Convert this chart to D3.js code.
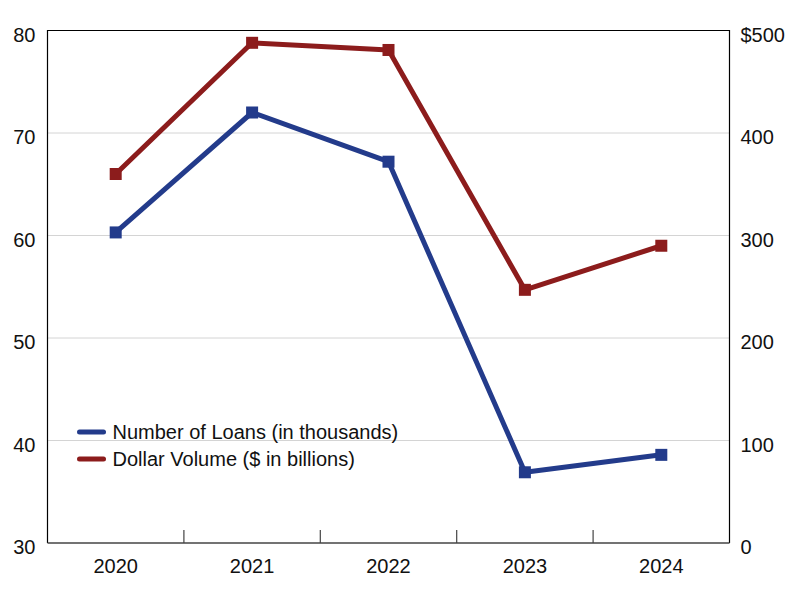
<!DOCTYPE html>
<html>
<head>
<meta charset="utf-8">
<script src="https://cdn.jsdelivr.net/npm/d3@7.9.0/dist/d3.min.js"></script>
<style>
  body { margin: 0; background: #fff; }
  svg { display: block; font-family: "Liberation Sans", Arial, sans-serif; }
</style>
</head>
<body>
<div id="chart"></div>
<script>
const years = ["2020", "2021", "2022", "2023", "2024"];
const loans = [60.3, 72.0, 67.2, 36.9, 38.6];      // thousands
const volume = [360, 488, 481, 247, 290];          // $ billions
const leftTicks = [30, 40, 50, 60, 70, 80];
const rightTicks = [0, 100, 200, 300, 400, 500];

const W = 800, H = 600;
const margin = {top: 30.5, right: 70.5, bottom: 57, left: 47.5};
const width = W - margin.left - margin.right;
const height = H - margin.top - margin.bottom;

const svg = d3.select("#chart").append("svg")
    .attr("width", W)
    .attr("height", H);

const g = svg.append("g")
    .attr("transform", `translate(${margin.left},${margin.top})`);

const x = d3.scaleBand().domain(years).range([0, width]);
const yL = d3.scaleLinear().domain([30, 80]).range([height, 0]);
const yR = d3.scaleLinear().domain([0, 500]).range([height, 0]);

// gridlines
g.selectAll(".grid")
    .data(leftTicks.slice(1, -1))
    .enter().append("line")
    .attr("x1", 0).attr("x2", width)
    .attr("y1", d => yL(d)).attr("y2", d => yL(d))
    .attr("stroke", "#d4d4d4")
    .attr("stroke-width", 1);

// frame: top, left, right in black
g.append("path")
    .attr("d", `M0,${height}V0H${width}V${height}`)
    .attr("fill", "none")
    .attr("stroke", "#000")
    .attr("stroke-width", 1.2);

// bottom axis line
g.append("line")
    .attr("x1", 0).attr("x2", width)
    .attr("y1", height).attr("y2", height)
    .attr("stroke", "#444")
    .attr("stroke-width", 1.5);

// ticks between categories
g.selectAll(".xtick")
    .data(years.slice(1))
    .enter().append("line")
    .attr("x1", d => x(d)).attr("x2", d => x(d))
    .attr("y1", height).attr("y2", height - 13)
    .attr("stroke", "#444")
    .attr("stroke-width", 1.2);

// x labels
g.selectAll(".xlab")
    .data(years)
    .enter().append("text")
    .attr("x", d => x(d) + x.bandwidth() / 2)
    .attr("y", height + 30)
    .attr("text-anchor", "middle")
    .attr("font-size", "20px")
    .attr("fill", "#111")
    .text(d => d);

// left labels
g.selectAll(".ylab")
    .data(leftTicks)
    .enter().append("text")
    .attr("x", -12)
    .attr("y", d => yL(d) + 11)
    .attr("text-anchor", "end")
    .attr("font-size", "20px")
    .attr("fill", "#111")
    .text(d => d);

// right labels
g.selectAll(".rlab")
    .data(rightTicks)
    .enter().append("text")
    .attr("x", width + 11)
    .attr("y", d => yR(d) + 11)
    .attr("text-anchor", "start")
    .attr("font-size", "20px")
    .attr("fill", "#111")
    .text(d => d === 500 ? "$" + d : d);

const series = [
    {name: "Number of Loans (in thousands)", values: loans, y: yL, color: "#233b8b"},
    {name: "Dollar Volume ($ in billions)", values: volume, y: yR, color: "#8c1c1c"}
];

series.forEach(s => {
    const line = d3.line()
        .x((d, i) => x(years[i]) + x.bandwidth() / 2)
        .y(d => s.y(d));

    g.append("path")
        .datum(s.values)
        .attr("d", line)
        .attr("fill", "none")
        .attr("stroke", s.color)
        .attr("stroke-width", 5)
        .attr("stroke-linejoin", "round");

    g.selectAll(null)
        .data(s.values)
        .enter().append("rect")
        .attr("x", (d, i) => x(years[i]) + x.bandwidth() / 2 - 6)
        .attr("y", d => s.y(d) - 6)
        .attr("width", 12)
        .attr("height", 12)
        .attr("fill", s.color);
});

// legend
const legend = g.append("g")
    .attr("transform", "translate(30, 401.5)");

series.forEach((s, i) => {
    legend.append("line")
        .attr("x1", 2).attr("x2", 26)
        .attr("y1", i * 27).attr("y2", i * 27)
        .attr("stroke", s.color)
        .attr("stroke-width", 5)
        .attr("stroke-linecap", "round");
    legend.append("text")
        .attr("x", 35)
        .attr("y", i * 27 + 7)
        .attr("font-size", "20px")
        .attr("fill", "#111")
        .text(s.name);
});
</script>
</body>
</html>
